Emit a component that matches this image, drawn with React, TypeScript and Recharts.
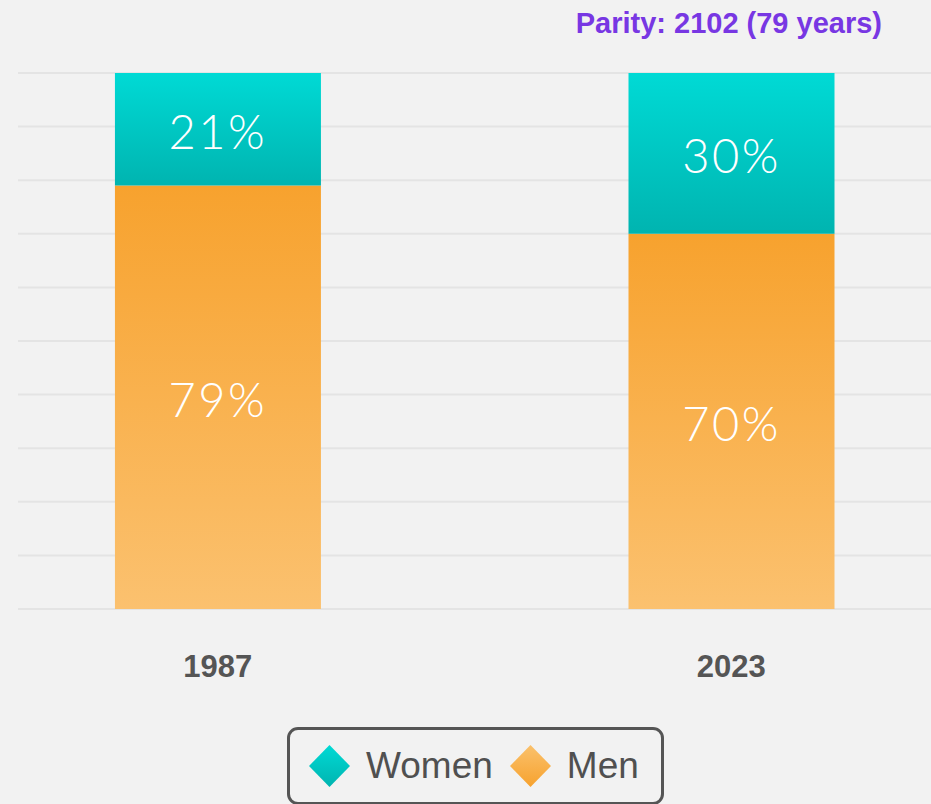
import { BarChart, Bar, XAxis, YAxis, CartesianGrid, LabelList } from "recharts";

// values
const years = [1987, 2023];
const women = [21, 30];
const men = [79, 70];
const yTicks = [0, 10, 20, 30, 40, 50, 60, 70, 80, 90, 100];
const title = "Parity: 2102 (79 years)";

const data = years.map((year, i) => ({ year, women: women[i], men: men[i] }));

const series = [
    { key: "women", name: "Women", top: "#00dad5", bottom: "#00b4b0" },
    { key: "men", name: "Men", top: "#fac16c", bottom: "#f7a22e" },
];

const SANS = "'Liberation Sans', Arial, sans-serif";
const LABEL_FONT = "Lato, 'Open Sans', sans-serif";

function Diamond({ id, top, bottom }: { id: string; top: string; bottom: string }) {
    return (
        <svg width={41} height={42} style={{ display: "block" }}>
            <defs>
                <linearGradient id={id} x1="0" y1="0" x2="0" y2="1">
                    <stop offset="0%" stopColor={top} />
                    <stop offset="100%" stopColor={bottom} />
                </linearGradient>
            </defs>
            <polygon points="20.5,0 41,21 20.5,42 0,21" fill={`url(#${id})`} />
        </svg>
    );
}

export default function App() {
    return (
        <div
            style={{
                position: "fixed",
                left: 0,
                top: 0,
                width: 931,
                height: 804,
                overflow: "hidden",
                background: "#f2f2f2",
                fontFamily: SANS,
            }}
        >
            <div
                style={{
                    position: "absolute",
                    top: 9,
                    right: 49,
                    fontSize: 29,
                    lineHeight: "29px",
                    fontWeight: 700,
                    color: "#7837e3",
                    whiteSpace: "nowrap",
                }}
            >
                {title}
            </div>

            <div style={{ position: "absolute", left: 0, top: 0 }}>
                <BarChart
                    width={931}
                    height={804}
                    data={data}
                    margin={{ top: 73, right: 0, left: 18, bottom: 135 }}
                >
                    <defs>
                        <linearGradient id="womenGrad" x1="0" y1="0" x2="0" y2="1">
                            <stop offset="0%" stopColor="#00dad5" />
                            <stop offset="100%" stopColor="#00b4b0" />
                        </linearGradient>
                        <linearGradient id="menGrad" x1="0" y1="0" x2="0" y2="1">
                            <stop offset="0%" stopColor="#f7a22e" />
                            <stop offset="100%" stopColor="#fbc16f" />
                        </linearGradient>
                    </defs>
                    <CartesianGrid vertical={false} stroke="#e4e4e4" strokeWidth={2} />
                    <XAxis
                        dataKey="year"
                        type="number"
                        domain={[1973, 2037]}
                        ticks={years}
                        height={60}
                        axisLine={false}
                        tickLine={false}
                        tickSize={0}
                        tickMargin={46}
                        tick={{ fill: "#555555", fontSize: 31, fontWeight: 700, fontFamily: SANS }}
                    />
                    <YAxis hide domain={[0, 100]} ticks={yTicks} />
                    <Bar dataKey="men" stackId="a" fill="url(#menGrad)" barSize={206} isAnimationActive={false}>
                        <LabelList
                            dataKey="men"
                            position="center"
                            formatter={(v: any) => `${v}%`}
                            fill="#ffffff"
                            fontSize={47}
                            fontFamily={LABEL_FONT}
                            fontWeight={300}
                            letterSpacing={2.5}
                            dy={3}
                        />
                    </Bar>
                    <Bar dataKey="women" stackId="a" fill="url(#womenGrad)" barSize={206} isAnimationActive={false}>
                        <LabelList
                            dataKey="women"
                            position="center"
                            formatter={(v: any) => `${v}%`}
                            fill="#ffffff"
                            fontSize={47}
                            fontFamily={LABEL_FONT}
                            fontWeight={300}
                            letterSpacing={2.5}
                            dy={3}
                        />
                    </Bar>
                </BarChart>
            </div>

            <div
                style={{
                    position: "absolute",
                    left: 287,
                    top: 727,
                    width: 377,
                    height: 78,
                    boxSizing: "border-box",
                    border: "3px solid #555555",
                    borderRadius: 11,
                    display: "flex",
                    alignItems: "center",
                    paddingLeft: 19,
                }}
            >
                {series.map((s, i) => (
                    <div key={s.key} style={{ display: "flex", alignItems: "center", marginLeft: i === 0 ? 0 : 17 }}>
                        <Diamond id={`leg-${s.key}`} top={s.top} bottom={s.bottom} />
                        <span style={{ marginLeft: 16, fontSize: 37, color: "#505050", lineHeight: "40px" }}>{s.name}</span>
                    </div>
                ))}
            </div>
        </div>
    );
}
